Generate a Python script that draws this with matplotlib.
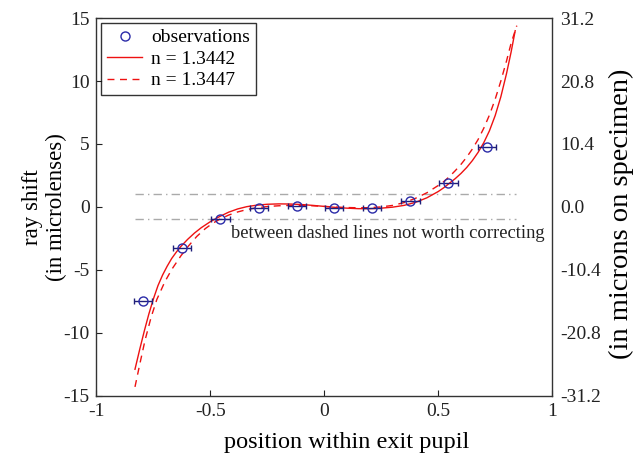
import numpy as np
import matplotlib
matplotlib.use("Agg")
import matplotlib.pyplot as plt
from matplotlib.ticker import FixedLocator

# =========================
# DATA
# =========================
obs_x = [-0.796, -0.624, -0.456, -0.288, -0.121, 0.042, 0.210, 0.378, 0.545, 0.713]
obs_y = [-7.47, -3.26, -0.95, -0.08, 0.10, -0.05, -0.05, 0.48, 1.93, 4.75]
obs_xerr = 0.04

# n = 1.3442 model curve (solid)
fit1_x = [-0.831, -0.81, -0.79, -0.77, -0.75, -0.73, -0.71, -0.69, -0.67, -0.65,
          -0.63, -0.60, -0.57, -0.54, -0.50, -0.46, -0.42, -0.38, -0.34, -0.30,
          -0.25, -0.20, -0.15, -0.10, -0.05, 0.00, 0.05, 0.10, 0.15, 0.20,
          0.25, 0.30, 0.35, 0.40, 0.45, 0.50, 0.525, 0.55, 0.575, 0.60,
          0.625, 0.65, 0.675, 0.70, 0.725, 0.75, 0.775, 0.80, 0.82, 0.838]
fit1_y = [-12.9, -11.3, -9.85, -8.5, -7.3, -6.25, -5.42, -4.72, -4.1, -3.6,
          -3.15, -2.58, -2.08, -1.65, -1.17, -0.77, -0.42, -0.16, 0.02, 0.13,
          0.21, 0.24, 0.23, 0.19, 0.12, 0.04, -0.04, -0.10, -0.14, -0.14,
          -0.10, -0.02, 0.12, 0.36, 0.72, 1.22, 1.53, 1.89, 2.25, 2.66,
          3.13, 3.68, 4.33, 5.1, 6.05, 7.25, 8.75, 10.6, 12.3, 14.0]

# n = 1.3447 model curve (dashed)
fit2_x = [-0.831, -0.81, -0.787, -0.76, -0.735, -0.70, -0.669, -0.63, -0.596, -0.56,
          -0.522, -0.49, -0.456, -0.42, -0.38, -0.34, -0.30, -0.25, -0.20, -0.15,
          -0.10, -0.05, 0.00, 0.05, 0.10, 0.15, 0.20, 0.25, 0.30, 0.35,
          0.40, 0.45, 0.50, 0.525, 0.55, 0.575, 0.60, 0.625, 0.65, 0.675,
          0.70, 0.725, 0.75, 0.775, 0.80, 0.82, 0.845]
fit2_y = [-14.3, -12.5, -10.6, -8.75, -7.35, -5.95, -4.95, -3.9, -3.1, -2.35,
          -1.72, -1.3, -0.95, -0.65, -0.40, -0.21, -0.08, 0.03, 0.09, 0.12,
          0.12, 0.09, 0.04, -0.01, -0.05, -0.07, -0.06, 0.0, 0.12, 0.34,
          0.68, 1.12, 1.7, 2.02, 2.42, 2.88, 3.38, 3.95, 4.6, 5.35,
          6.25, 7.3, 8.55, 10.0, 11.6, 13.0, 14.4]

band_lo, band_hi = -1.0, 1.0
band_x = [-0.83, 0.84]

left_ticks = [-15, -10, -5, 0, 5, 10, 15]
right_ticks = [-31.2, -20.8, -10.4, 0.0, 10.4, 20.8, 31.2]
x_ticks = [-1, -0.5, 0, 0.5, 1]

# =========================
# PLOT
# =========================
plt.rcParams["font.family"] = ["Liberation Serif", "DejaVu Serif"]
plt.rcParams["font.size"] = 14

fig = plt.figure(figsize=(6.39, 4.53), dpi=100)
ax = fig.add_axes([0.151, 0.1265, 0.713, 0.8335])

ax.plot(band_x, [band_hi, band_hi], color="#aaaaaa", lw=1.0, ls=(0, (6, 3, 1, 3)), zorder=1)
ax.plot(band_x, [band_lo, band_lo], color="#aaaaaa", lw=1.0, ls=(0, (6, 3, 1, 3)), zorder=1)

ax.errorbar(obs_x, obs_y, xerr=obs_xerr, fmt="none", ecolor="#1f1f7a",
            elinewidth=1.0, capsize=2.5, zorder=3)
h_obs, = ax.plot(obs_x, obs_y, "o", mfc="none", mec="#2b2ba8", ms=6.5, mew=1.0,
                 zorder=4, label="observations")
h1, = ax.plot(fit1_x, fit1_y, color="#ee1111", lw=1.0, zorder=2, label="n = 1.3442")
h2, = ax.plot(fit2_x, fit2_y, color="#ee1111", lw=1.0, ls=(0, (5, 4)), zorder=2,
              label="n = 1.3447")

ax.text(-0.41, -2.15, "between dashed lines not worth correcting", fontsize=13.3,
        va="center", ha="left", color="#222222")

ax.set_xlim(-1, 1)
ax.set_ylim(-15, 15)
ax.set_xticks(x_ticks)
ax.set_xticklabels(["-1", "-0.5", "0", "0.5", "1"])
ax.set_yticks(left_ticks)
ax.set_yticklabels([str(t) for t in left_ticks])
ax.tick_params(direction="in", length=4, width=0.8, colors="#222222", labelsize=14)
ax.tick_params(axis="x", pad=5)
ax.tick_params(axis="y", pad=5)
for s in ax.spines.values():
    s.set_color("#333333")
    s.set_linewidth(1.0)

ax.set_xlabel("position within exit pupil", fontsize=17.5)
ax.xaxis.set_label_coords(0.548, -0.095)
ax.set_ylabel("ray shift\n(in microlenses)", fontsize=16.5, labelpad=-3)

ax2 = ax.twinx()
ax2.set_ylim(-31.2, 31.2)
ax2.yaxis.set_major_locator(FixedLocator(right_ticks))
ax2.set_yticklabels([f"{t:.1f}" for t in right_ticks])
ax2.tick_params(axis="y", length=0, pad=6, labelsize=14, colors="#222222")
ax2.set_ylabel("(in microns on specimen)", fontsize=20.5, labelpad=6)
ax2.yaxis.set_label_coords(1.125, 0.481)
for s in ax2.spines.values():
    s.set_visible(False)

leg = ax.legend(handles=[h_obs, h1, h2], loc="upper left", fontsize=14,
                frameon=True, fancybox=False, borderaxespad=0.25,
                handlelength=1.8, borderpad=0.3, labelspacing=0.2,
                handletextpad=0.45)
leg.get_frame().set_edgecolor("black")
leg.get_frame().set_linewidth(1.0)

fig.savefig("out.png", dpi=100)
